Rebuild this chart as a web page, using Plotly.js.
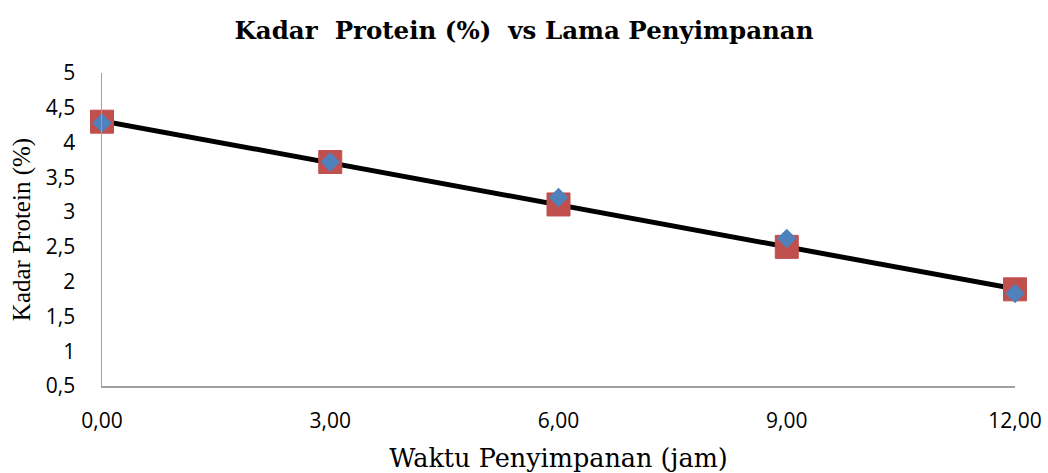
<!DOCTYPE html>
<html>
<head>
<meta charset="utf-8">
<script src="https://cdn.plot.ly/plotly-3.0.1.min.js"></script>
<style>html,body{margin:0;padding:0;background:#fff;}#chart{width:1048px;height:473px;}</style>
</head>
<body>
<div id="chart"></div>
<script>
// Data
const waktu = [0, 3, 6, 9, 12];
const proteinA = [4.30, 3.72, 3.11, 2.50, 1.89];   // red squares
const proteinB = [4.28, 3.72, 3.21, 2.62, 1.83];   // blue diamonds
const xTicks = [0, 3, 6, 9, 12];
const yTicks = [0.5, 1, 1.5, 2, 2.5, 3, 3.5, 4, 4.5, 5];

// Linear trendline (least squares) of the red series
const n = waktu.length;
const mx = waktu.reduce((a, b) => a + b, 0) / n;
const my = proteinA.reduce((a, b) => a + b, 0) / n;
let sxy = 0, sxx = 0;
for (let i = 0; i < n; i++) { sxy += (waktu[i] - mx) * (proteinA[i] - my); sxx += (waktu[i] - mx) ** 2; }
const slope = sxy / sxx, icept = my - slope * mx;
const trendX = [waktu[0], waktu[n - 1]];
const trendY = trendX.map(x => icept + slope * x);

const traces = [
  { x: trendX, y: trendY, mode: 'lines', line: { color: '#000000', width: 5 }, hoverinfo: 'skip', cliponaxis: false },
  { x: waktu, y: proteinA, mode: 'markers', cliponaxis: false,
    marker: { symbol: 'square', size: 23, color: '#C0504D', line: { color: '#C0504D', width: 1 } } },
  { x: waktu, y: proteinB, mode: 'markers', cliponaxis: false,
    marker: { symbol: 'diamond', size: 15, color: '#4F81BD', line: { width: 0 } } }
];

const layout = {
  width: 1048, height: 473,
  margin: { l: 102, r: 33, t: 73, b: 87 },
  paper_bgcolor: '#ffffff', plot_bgcolor: '#ffffff',
  separators: ',.',
  showlegend: false,
  title: {
    text: 'Kadar  Protein (%)  vs Lama Penyimpanan',
    font: { family: 'DejaVu Serif', size: 24.5, color: '#000000', weight: 'bold' },
    x: 0.5, xanchor: 'center', y: 0.935, yanchor: 'middle'
  },
  xaxis: {
    range: [0, 12], tickvals: xTicks, tickformat: '.2f',
    showgrid: false, zeroline: false,
    showline: true, linecolor: '#A0A0A0', linewidth: 1.5,
    ticks: 'outside', ticklen: 15, tickcolor: 'rgba(0,0,0,0)',
    tickfont: { family: 'Open Sans', size: 21, color: '#000000' },
    title: { text: 'Waktu Penyimpanan (jam)', font: { family: 'DejaVu Serif', size: 25.5, color: '#000000' }, standoff: 19 }
  },
  yaxis: {
    range: [0.5, 5], tickvals: yTicks,
    showgrid: false, zeroline: false,
    showline: true, linecolor: '#A0A0A0', linewidth: 1.5,
    ticks: 'outside', ticklen: 21, tickcolor: 'rgba(0,0,0,0)',
    tickfont: { family: 'Open Sans', size: 21, color: '#000000' },
    title: { text: 'Kadar Protein (%)', font: { family: 'Liberation Serif', size: 25, color: '#000000' }, standoff: 8 }
  }
};

Plotly.newPlot('chart', traces, layout, { staticPlot: true, displayModeBar: false });
</script>
</body>
</html>
